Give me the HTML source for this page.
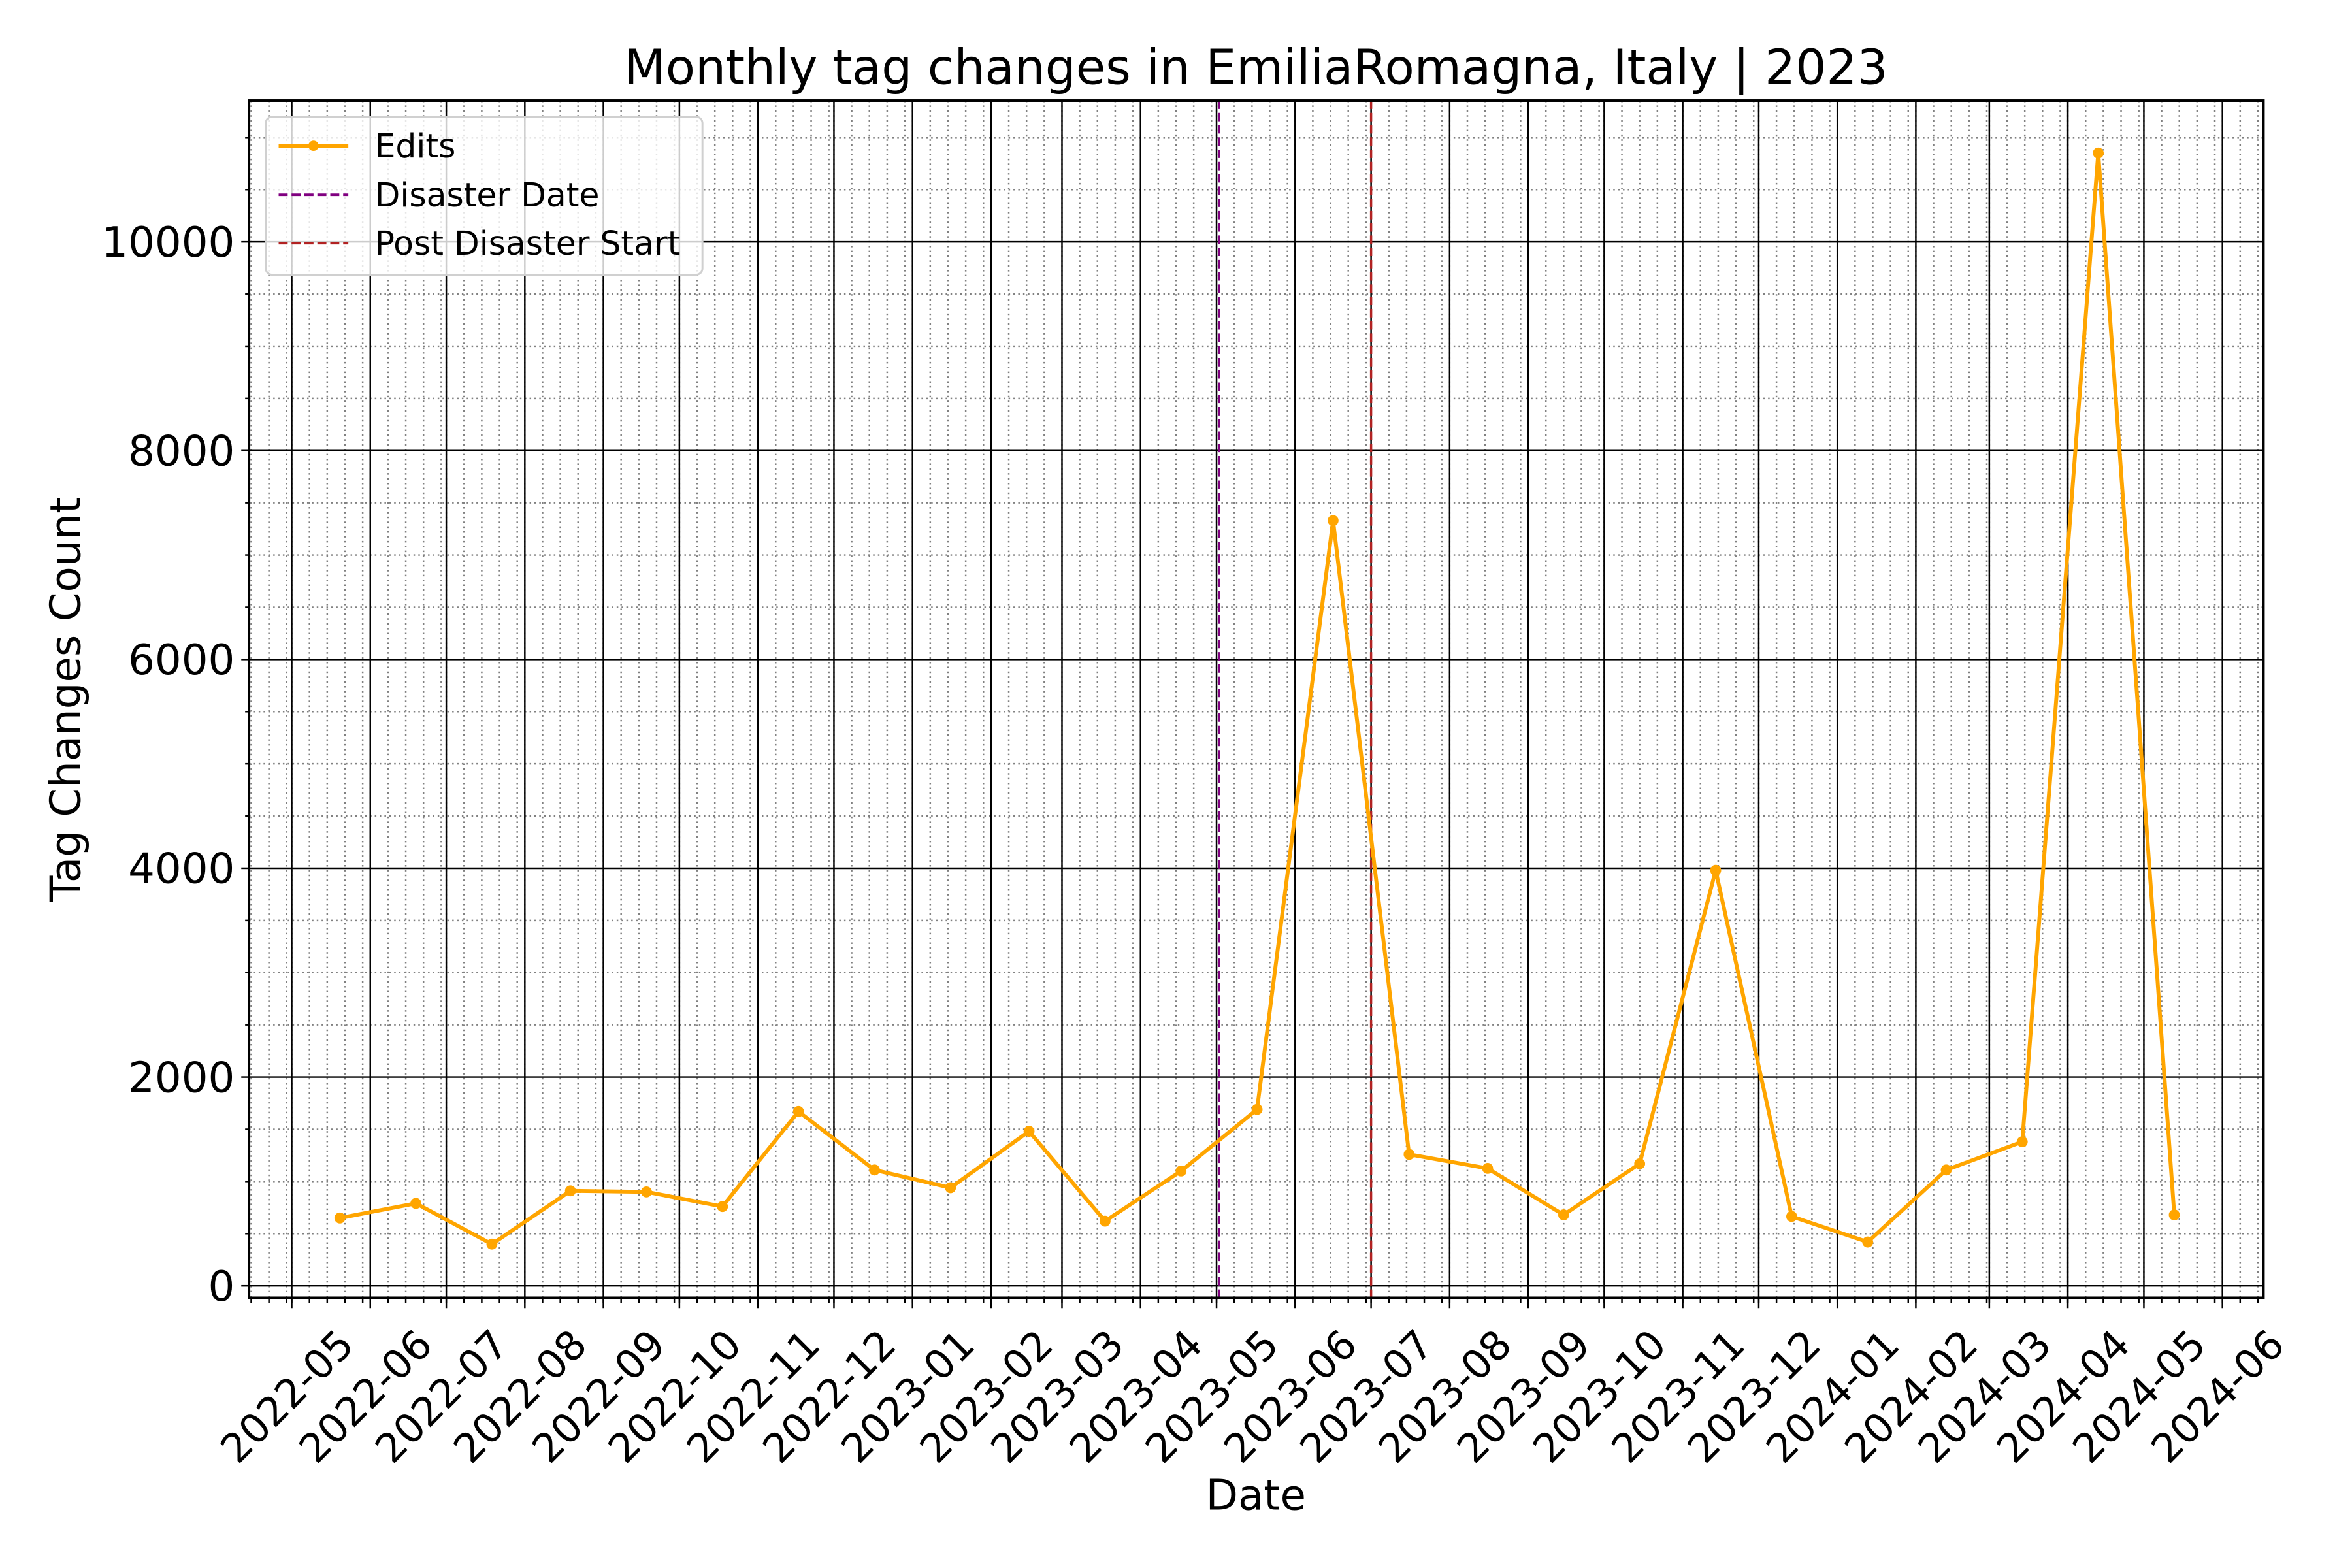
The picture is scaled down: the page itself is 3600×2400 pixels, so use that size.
<!DOCTYPE html>
<html><head><meta charset="utf-8"><style>
html,body{margin:0;padding:0;background:#fff;}
svg{display:block;font-family:"DejaVu Sans","Liberation Sans",sans-serif;}
</style></head><body>
<svg id="chart" width="3600" height="2400" viewBox="0 0 3600 2400" xmlns="http://www.w3.org/2000/svg">
<rect width="3600" height="2400" fill="#fff"/>
<g transform="scale(0.9873)">
<g id="grid"></g>
<g id="vlines"></g>
<g id="series"></g>
<g id="axes"></g>
<text x="1947" y="130" font-size="75" text-anchor="middle">Monthly tag changes in EmiliaRomagna, Italy | 2023</text>
<text x="1947" y="2340" font-size="65" text-anchor="middle">Date</text>
<text x="0" y="0" font-size="65" text-anchor="middle" transform="translate(124,1084) rotate(-90)">Tag Changes Count</text>
<g>
<rect x="412" y="181" width="677" height="245" rx="10" fill="#fff" fill-opacity="0.8" stroke="#d0d0d0" stroke-width="3"/>
<g>
<line x1="432" y1="226" x2="540" y2="226" stroke="#FFA500" stroke-width="6"/>
<circle cx="486" cy="226" r="8" fill="#FFA500"/>
<text x="581" y="244" font-size="51">Edits</text></g>
<g>
<line x1="432" y1="302" x2="540" y2="302" stroke="#800080" stroke-width="4" stroke-dasharray="14,6"/>
<text x="581" y="320" font-size="51">Disaster Date</text></g>
<g>
<line x1="432" y1="377" x2="540" y2="377" stroke="#B22222" stroke-width="4" stroke-dasharray="14,6"/>
<text x="581" y="395" font-size="51">Post Disaster Start</text></g>
</g>
</g>
</svg>
<script>
const dates = ["2022-05-20","2022-06-19","2022-07-19","2022-08-19","2022-09-18","2022-10-18","2022-11-17","2022-12-17","2023-01-16","2023-02-16","2023-03-18","2023-04-17","2023-05-17","2023-06-16","2023-07-16","2023-08-16","2023-09-15","2023-10-15","2023-11-14","2023-12-14","2024-01-13","2024-02-13","2024-03-14","2024-04-13","2024-05-13"];
const edits = [650,790,400,910,900,760,1670,1110,940,1480,620,1100,1690,7330,1260,1125,680,1170,3980,665,420,1110,1380,10850,680];
const yTicks = [0,2000,4000,6000,8000,10000];
const xTickLabels = ["2022-05","2022-06","2022-07","2022-08","2022-09","2022-10","2022-11","2022-12","2023-01","2023-02","2023-03","2023-04","2023-05","2023-06","2023-07","2023-08","2023-09","2023-10","2023-11","2023-12","2024-01","2024-02","2024-03","2024-04","2024-05","2024-06"];
const disasterDate = "2023-05-02";
const postDisasterStart = "2023-07-01";

const NS="http://www.w3.org/2000/svg";
const L=386,R=3509,T=156,B=2012;
const dayMs=86400000;
const refT=Date.UTC(2023,4,1);
const pxPerDay=3.928, refX=1886;
function tOf(s){const p=s.split("-").map(Number);return Date.UTC(p[0],p[1]-1,p[2]||1);}
function xS(s){return refX+(tOf(s)-refT)/dayMs*pxPerDay;}
function xT(t){return refX+(t-refT)/dayMs*pxPerDay;}
function yS(v){return 1993.5-v*0.16186;}
function mk(tag,attrs,parent){const e=document.createElementNS(NS,tag);for(const k in attrs)e.setAttribute(k,attrs[k]);parent.appendChild(e);return e;}
const grid=document.getElementById("grid"),axes=document.getElementById("axes"),series=document.getElementById("series"),vl=document.getElementById("vlines");

for(let v=-500;v<=11500;v+=500){
  if(v%2000===0)continue;const y=yS(v);if(y<T||y>B)continue;
  const g=mk("line",{x1:L,x2:R,y1:y,y2:y,stroke:"#808080","stroke-width":2.5,"stroke-dasharray":"2.5,5"},grid);
  
  
  mk("line",{x1:L-6,x2:L,y1:y,y2:y,stroke:"#000","stroke-width":2.5},axes);
}
const t0=refT-400*dayMs,t1=refT+430*dayMs;
for(let t=t0;t<=t1;t+=dayMs){
  const d=new Date(t).getUTCDate();
  if([1,8,15,22,29].indexOf(d)<0)continue;
  const x=xT(t);if(x<L||x>R)continue;
  const g=mk("line",{x1:x,x2:x,y1:T,y2:B,stroke:"#808080","stroke-width":2.5,"stroke-dasharray":"2.5,5"},grid);
  
  
  mk("line",{x1:x,x2:x,y1:B,y2:B+8,stroke:"#000","stroke-width":2.5},axes);
}
yTicks.forEach(v=>{
  const y=yS(v);
  const g=mk("line",{x1:L,x2:R,y1:y,y2:y,stroke:"#000","stroke-width":2.5},grid);
  
  
  mk("line",{x1:L-12,x2:L,y1:y,y2:y,stroke:"#000","stroke-width":2.5},axes);
  const t=mk("text",{x:L-22,y:y+23,"font-size":65,"text-anchor":"end"},axes);
  t.textContent=v;
  
  
});
xTickLabels.forEach(s=>{
  const x=xS(s);
  const g=mk("line",{x1:x,x2:x,y1:T,y2:B,stroke:"#000","stroke-width":2.5},grid);
  
  
  mk("line",{x1:x,x2:x,y1:B,y2:B+16,stroke:"#000","stroke-width":2.5},axes);
  const t=mk("text",{x:0,y:0,"font-size":62,"text-anchor":"middle",transform:`translate(${x+8},${B+168}) rotate(-45)`},axes);
  t.textContent=s;
  
  
});
let e1=mk("line",{x1:xS(disasterDate),x2:xS(disasterDate),y1:T,y2:B,stroke:"#800080","stroke-width":3.5,"stroke-dasharray":"13,6"},vl);


let e2=mk("line",{x1:xS(postDisasterStart),x2:xS(postDisasterStart),y1:T,y2:B,stroke:"#B22222","stroke-width":3.5,"stroke-dasharray":"13,6"},vl);


const pts=dates.map((d,i)=>xS(d).toFixed(1)+","+yS(edits[i]).toFixed(1)).join(" ");
const pl=mk("polyline",{points:pts,fill:"none",stroke:"#FFA500","stroke-width":6,"stroke-linejoin":"round"},series);


dates.forEach((d,i)=>{
  const c=mk("circle",{cx:xS(d),cy:yS(edits[i]),r:8.5,fill:"#FFA500"},series);
  
  
});
const sp=mk("rect",{x:L,y:T,width:R-L,height:B-T,fill:"none",stroke:"#000","stroke-width":4},axes);


</script>
</body></html>
